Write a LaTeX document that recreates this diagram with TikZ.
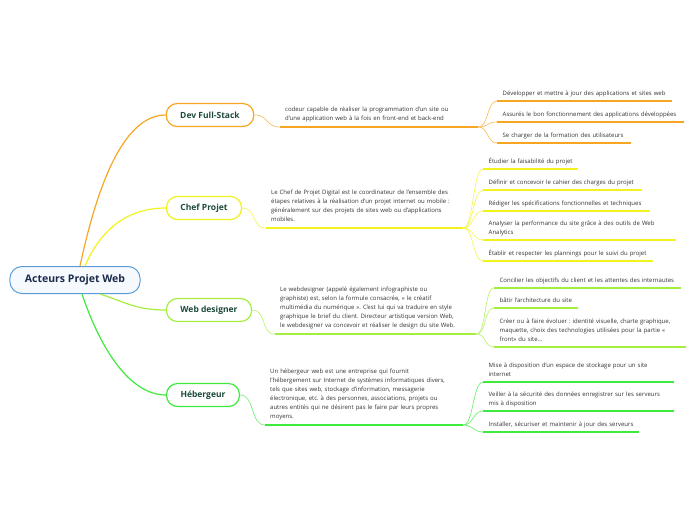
\documentclass[tikz,border=0pt]{standalone}
\usepackage{fontspec}
\setmainfont{Open Sans}
\frenchspacing
\usetikzlibrary{positioning}
\definecolor{cOr}{HTML}{F6A623}
\definecolor{cYe}{HTML}{F2F21C}
\definecolor{cLg}{HTML}{A4EF3E}
\definecolor{cGr}{HTML}{3EEA3E}
\definecolor{cRoot}{HTML}{5B9BD5}
\definecolor{cRootFill}{HTML}{F6FAFF}
\definecolor{cRootTxt}{HTML}{1C2B4B}
\definecolor{cBrTxt}{HTML}{1C4A3B}
\definecolor{cTxt}{HTML}{333333}
\tikzset{
  rootbox/.style={draw=cRoot, fill=cRootFill, line width=1pt, rounded corners=12pt,
    minimum height=27pt, inner xsep=15pt, text=cRootTxt,
    font=\bfseries\fontsize{10.5}{12}\selectfont},
  branch/.style={draw=#1, fill=white, line width=1.2pt, rounded corners=11pt,
    minimum height=23pt, inner xsep=14pt, text=cBrTxt,
    font=\bfseries\fontsize{8.5}{10}\selectfont},
  desc/.style={anchor=south west, align=left, inner xsep=5pt, inner ysep=3.3pt,
    text=cTxt, font=\fontsize{6}{9}\selectfont, execute at end node={\strut}},
  leaf/.style={desc, inner xsep=5.5pt, inner ysep=2.7pt},
  link/.style={draw=#1, line width=1.2pt},
  sublink/.style={draw=#1!80, line width=0.6pt},
  uline/.style={draw=#1, line width=1.4pt},
}
\begin{document}
\begin{tikzpicture}[x=1pt,y=-1pt]
\useasboundingbox (0,0) rectangle (696,520);
% centre
\node[rootbox] (root) at (75,280) {Acteurs Projet Web};
% branches
\node[branch=cOr] (dev) at (210,115) {Dev Full-Stack};
\node[branch=cYe] (chef) at (204,208) {Chef Projet};
\node[branch=cLg] (wdes) at (209,310) {Web designer};
\node[branch=cGr] (heb) at (203,395) {Hébergeur};
\draw[link=cOr] ([xshift=5pt]root.north) .. controls +(15,-70) and +(-45,0) .. (dev.west);
\draw[link=cYe] ([xshift=10pt]root.north) .. controls +(15,-35) and +(-40,0) .. (chef.west);
\draw[link=cLg] ([xshift=25pt]root.south) .. controls +(25,8) and +(-30,0) .. (wdes.west);
\draw[link=cGr] ([xshift=7pt]root.south) .. controls +(15,45) and +(-40,0) .. (heb.west);

% Dev Full-Stack
\node[desc, text width=188pt] (devd) at (280,127)
  {codeur capable de réaliser la programmation d'un site ou\\
   d'une application web à la fois en front-end et back-end};
\node[leaf, text width=164pt] (dev1) at (497,101) {Développer et mettre à jour des applications et sites web};
\node[leaf, text width=176pt] (dev2) at (497,122) {Assurés le bon fonctionnement des applications développées};
\node[leaf, text width=123pt] (dev3) at (497,143) {Se charger de la formation des utilisateurs};
\draw[sublink=cOr] (dev.east) .. controls +(15,0) and +(-15,0) .. (devd.south west);
\draw[uline=cOr] (devd.south west) -- (devd.south east);
\foreach \n in {dev1,dev2,dev3}{
  \draw[sublink=cOr] (devd.south east) .. controls +(10,0) and +(-10,0) .. (\n.south west);
  \draw[uline=cOr] (\n.south west) -- (\n.south east);
}

% Chef Projet
\node[desc, text width=187pt] (chefd) at (266,228)
  {Le Chef de Projet Digital est le coordinateur de l'ensemble des\\
   étapes relatives à la réalisation d'un projet internet ou mobile :\\
   généralement sur des projets de sites web ou d'applications\\
   mobiles.};
\node[leaf, text width=84pt] (chef1) at (483,169) {Étudier la faisabilité du projet};
\node[leaf, text width=148pt] (chef2) at (483,190) {Définir et concevoir le cahier des charges du projet};
\node[leaf, text width=156pt] (chef3) at (483,211) {Rédiger les spécifications fonctionnelles et techniques};
\node[leaf, text width=182pt] (chef4) at (483,240) {Analyser la performance du site grâce à des outils de Web\\Analytics};
\node[leaf, text width=159pt] (chef5) at (483,261) {Établir et respecter les plannings pour le suivi du projet};
\draw[sublink=cYe] (chef.east) .. controls +(15,0) and +(-15,0) .. (chefd.south west);
\draw[uline=cYe] (chefd.south west) -- (chefd.south east);
\foreach \n in {chef1,chef2,chef3,chef4,chef5}{
  \draw[sublink=cYe] (chefd.south east) .. controls +(10,0) and +(-10,0) .. (\n.south west);
  \draw[uline=cYe] (\n.south west) -- (\n.south east);
}

% Web designer
\node[desc, text width=191pt] (wdesd) at (275,334)
  {Le webdesigner (appelé également infographiste ou\\
   graphiste) est, selon la formule consacrée, « le créatif\\
   multimédia du numérique ». C'est lui qui va traduire en style\\
   graphique le brief du client. Directeur artistique version Web,\\
   le webdesigner va concevoir et réaliser le design du site Web.};
\node[leaf, text width=176pt] (wdes1) at (494,288) {Concilier les objectifs du client et les attentes des internautes};
\node[leaf, text width=73pt] (wdes2) at (494,308) {bâtir l'architecture du site};
\node[leaf, text width=181pt] (wdes3) at (494,347)
  {Créer ou à faire évoluer : identité visuelle, charte graphique,\\
   maquette, choix des technologies utilisées pour la partie «\\
   front» du site...};
\draw[sublink=cLg] (wdes.east) .. controls +(15,0) and +(-15,0) .. (wdesd.south west);
\draw[uline=cLg] (wdesd.south west) -- (wdesd.south east);
\foreach \n in {wdes1,wdes2,wdes3}{
  \draw[sublink=cLg] (wdesd.south east) .. controls +(10,0) and +(-10,0) .. (\n.south west);
  \draw[uline=cLg] (\n.south west) -- (\n.south east);
}

% Hebergeur
\node[desc, text width=188pt] (hebd) at (265,425)
  {Un hébergeur web est une entreprise qui fournit\\
   l'hébergement sur Internet de systèmes informatiques divers,\\
   tels que sites web, stockage d'information, messagerie\\
   électronique, etc. à des personnes, associations, projets ou\\
   autres entités qui ne désirent pas le faire par leurs propres\\
   moyens.};
\node[leaf, text width=180pt] (heb1) at (483,382) {Mise à disposition d'un espace de stockage pour un site\\internet};
\node[leaf, text width=180pt] (heb2) at (483,411) {Veiller à la sécurité des données enregistrer sur les serveurs\\mis à disposition};
\node[leaf, text width=145pt] (heb3) at (483,432) {Installer, sécuriser et maintenir à jour des serveurs};
\draw[sublink=cGr] (heb.east) .. controls +(15,0) and +(-15,0) .. (hebd.south west);
\draw[uline=cGr] (hebd.south west) -- (hebd.south east);
\foreach \n in {heb1,heb2,heb3}{
  \draw[sublink=cGr] (hebd.south east) .. controls +(10,0) and +(-10,0) .. (\n.south west);
  \draw[uline=cGr] (\n.south west) -- (\n.south east);
}
\end{tikzpicture}
\end{document}
